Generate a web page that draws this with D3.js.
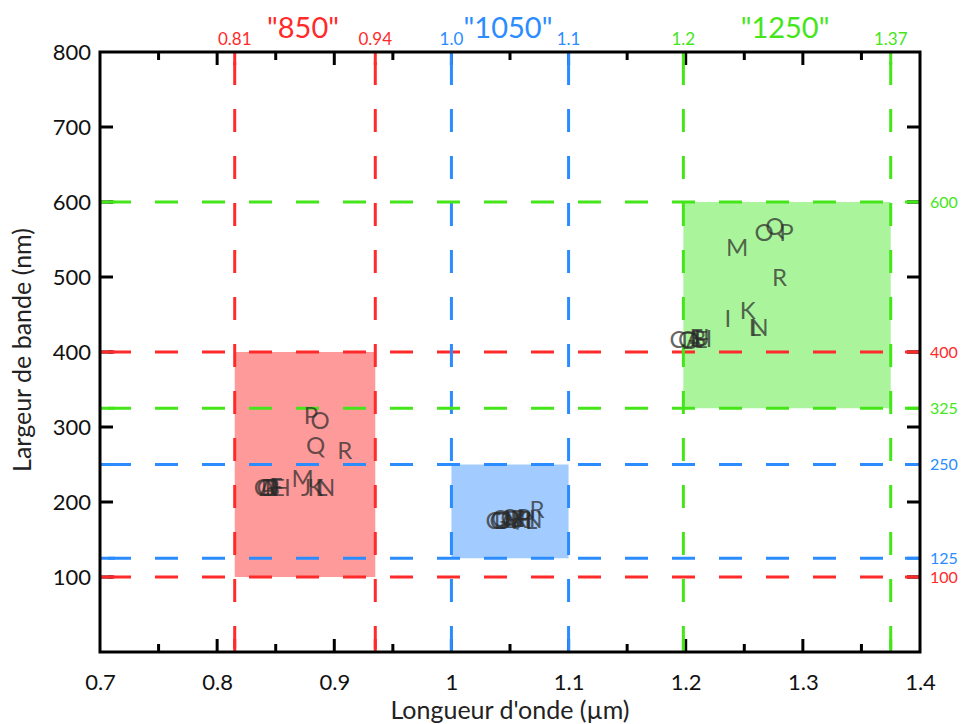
<!DOCTYPE html>
<html><head><meta charset="utf-8">
<script src="https://cdn.jsdelivr.net/npm/d3@7"></script>
<style>body{margin:0;background:#fff;} svg{display:block;}</style>
</head><body><svg id="c" width="961" height="724"></svg>
<script>
// ---- data ----
const letters = ["A","B","C","D","E","F","G","H","I","J","K","L","M","N","O","P","Q","R"];
const wl850 = [0.843,0.847,0.838,0.845,0.852,0.850,0.841,0.855,0.848,0.876,0.884,0.889,0.873,0.893,0.888,0.880,0.884,0.909];
const bw850 = [220,220,219,219,220,221,219,220,221,219,219,219,232,219,309,315,275,269];
const wl1050 = [1.048,1.052,1.036,1.044,1.056,1.060,1.040,1.064,1.066,1.046,1.058,1.068,1.054,1.070,1.042,1.062,1.050,1.073];
const bw1050 = [176,177,175,176,178,177,176,178,176,175,177,176,178,177,178,180,179,190];
const wl1250 = [1.207,1.211,1.193,1.204,1.213,1.209,1.201,1.215,1.236,1.216,1.253,1.259,1.244,1.263,1.267,1.286,1.276,1.280];
const bw1250 = [417,418,417,416,417,419,417,418,445,420,456,433,539,433,559,560,568,499];

const bandNames = ['"850"','"1050"','"1250"'];
const bandColors = ["#ff2a2a","#2a8cff","#44e61a"];
const bandFills = ["#ff9a9a","#a2ccff","#aaf59c"];
const bandXmin = [0.815,1.0,1.198];
const bandXmax = [0.935,1.1,1.375];
const bandXminLabel = ["0.81","1.0","1.2"];
const bandXmaxLabel = ["0.94","1.1","1.37"];
const bandYmin = [100,125,325];
const bandYmax = [400,250,600];

const xTicks = [0.7,0.8,0.9,1.0,1.1,1.2,1.3,1.4];
const xTickLabels = ["0.7","0.8","0.9","1","1.1","1.2","1.3","1.4"];
const xMinor = [0.75,0.85,0.95,1.05,1.15,1.25,1.35];
const yTicks = [100,200,300,400,500,600,700,800];

// ---- chart ----
const svg = d3.select("#c");
const L=100,R=920,T=52,B=652;
const x = d3.scaleLinear().domain([0.7,1.4]).range([L,R]);
const y = d3.scaleLinear().domain([0,800]).range([B,T]);
const font = "Lato, 'Open Sans', sans-serif";

// boxes
const g0 = svg.append("g");
bandNames.forEach((n,i)=>{
  g0.append("rect").attr("x",x(bandXmin[i])).attr("y",y(bandYmax[i]))
    .attr("width",x(bandXmax[i])-x(bandXmin[i])).attr("height",y(bandYmin[i])-y(bandYmax[i]))
    .attr("fill",bandFills[i]);
});

// dashed lines
const g1 = svg.append("g").attr("stroke-width",3).attr("stroke-dasharray","23,24");
bandNames.forEach((n,i)=>{
  [bandXmin[i],bandXmax[i]].forEach(v=>{
    g1.append("line").attr("x1",x(v)).attr("x2",x(v)).attr("y1",T+10).attr("y2",B).attr("stroke",bandColors[i]);
  });
  [bandYmin[i],bandYmax[i]].forEach(v=>{
    g1.append("line").attr("x1",L+8).attr("x2",R).attr("y1",y(v)).attr("y2",y(v)).attr("stroke",bandColors[i]);
  });
});

// letters
const g2 = svg.append("g").attr("font-family",font).attr("font-size",24)
  .attr("fill","#2a2a2a").attr("fill-opacity",0.72).attr("text-anchor","middle");
[[wl850,bw850],[wl1050,bw1050],[wl1250,bw1250]].forEach(([xs,ys])=>{
  letters.forEach((l,j)=>{
    g2.append("text").attr("x",x(xs[j])).attr("y",y(ys[j])).attr("dy","0.36em").text(l);
  });
});

// axes
const tl = 13, tm = 8;
const xAxisB = d3.axisBottom(x).tickValues(xTicks).tickFormat((d,i)=>xTickLabels[i]).tickSize(0).tickPadding(22);
const gx = svg.append("g").attr("transform",`translate(0,${B})`).call(xAxisB);
gx.select(".domain").remove();
gx.selectAll("text").attr("font-family",font).attr("font-size",22).attr("fill","#111");

const yAxisL = d3.axisLeft(y).tickValues(yTicks).tickSize(0).tickPadding(9);
const gy = svg.append("g").attr("transform",`translate(${L},0)`).call(yAxisL);
gy.select(".domain").remove();
gy.selectAll("text").attr("font-family",font).attr("font-size",22).attr("fill","#111");

// tick marks
const gt = svg.append("g").attr("stroke-width",3);
xTicks.slice(1,-1).forEach(v=>{
  gt.append("line").attr("x1",x(v)).attr("x2",x(v)).attr("y1",B).attr("y2",B-tl).attr("stroke","#000");
  gt.append("line").attr("x1",x(v)).attr("x2",x(v)).attr("y1",T).attr("y2",T+tl).attr("stroke","#000");
});
xMinor.forEach(v=>{
  gt.append("line").attr("x1",x(v)).attr("x2",x(v)).attr("y1",B).attr("y2",B-tm).attr("stroke","#000");
  gt.append("line").attr("x1",x(v)).attr("x2",x(v)).attr("y1",T).attr("y2",T+tm).attr("stroke","#000");
});
yTicks.slice(0,-1).forEach(v=>{
  gt.append("line").attr("x1",L).attr("x2",L+tl).attr("y1",y(v)).attr("y2",y(v)).attr("stroke","#000");
  gt.append("line").attr("x1",R).attr("x2",R-tl).attr("y1",y(v)).attr("y2",y(v)).attr("stroke","#000");
});
bandNames.forEach((n,i)=>{
  [bandXmin[i],bandXmax[i]].forEach(v=>{
    gt.append("line").attr("x1",x(v)).attr("x2",x(v)).attr("y1",B).attr("y2",B-tl).attr("stroke",bandColors[i]);
    gt.append("line").attr("x1",x(v)).attr("x2",x(v)).attr("y1",T).attr("y2",T+tl).attr("stroke",bandColors[i]);
  });
  [bandYmin[i],bandYmax[i]].forEach(v=>{
    gt.append("line").attr("x1",L).attr("x2",L+tl+2).attr("y1",y(v)).attr("y2",y(v)).attr("stroke",bandColors[i]);
    gt.append("line").attr("x1",R).attr("x2",R-tl-2).attr("y1",y(v)).attr("y2",y(v)).attr("stroke",bandColors[i]);
  });
});

// frame
svg.append("rect").attr("x",L).attr("y",T).attr("width",R-L).attr("height",B-T)
  .attr("fill","none").attr("stroke","#000").attr("stroke-width",3);

// band labels
const g3 = svg.append("g").attr("font-family",font).attr("text-anchor","middle");
bandNames.forEach((n,i)=>{
  g3.append("text").attr("x",x(bandXmin[i])).attr("y",45).attr("font-size",17).attr("fill",bandColors[i]).text(bandXminLabel[i]);
  g3.append("text").attr("x",x(bandXmax[i])).attr("y",45).attr("font-size",17).attr("fill",bandColors[i]).text(bandXmaxLabel[i]);
  g3.append("text").attr("x",(x(bandXmin[i])+x(bandXmax[i]))/2 - 2).attr("y",38).attr("font-size",29).attr("fill",bandColors[i]).text(n);
  [bandYmin[i],bandYmax[i]].forEach(v=>{
    g3.append("text").attr("x",R+10).attr("y",y(v)).attr("dy","0.35em").attr("text-anchor","start")
      .attr("font-size",16).attr("fill",bandColors[i]).text(v);
  });
});

// axis titles
svg.append("text").attr("x",510).attr("y",719).attr("text-anchor","middle")
  .attr("font-family",font).attr("font-size",25).attr("fill","#222").text("Longueur d'onde (µm)");
svg.append("text").attr("transform","translate(31,350) rotate(-90)").attr("text-anchor","middle")
  .attr("font-family",font).attr("font-size",25).attr("fill","#222").text("Largeur de bande (nm)");
</script></body></html>
